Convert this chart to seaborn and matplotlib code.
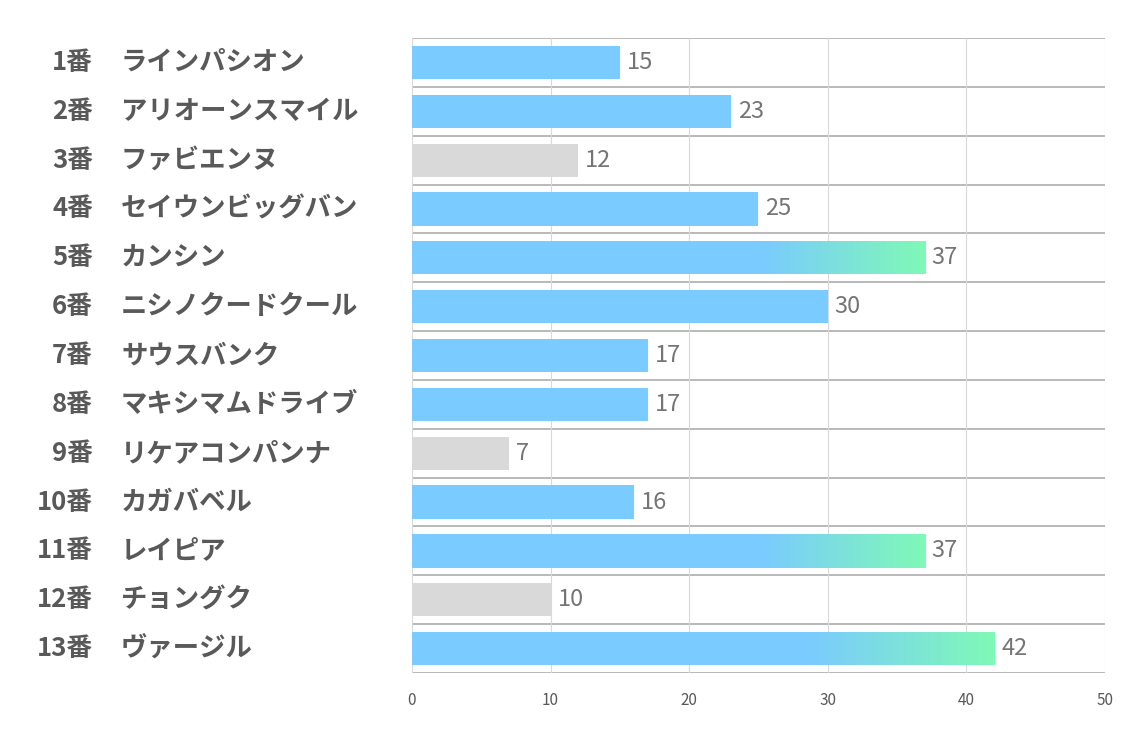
import numpy as np
import pandas as pd
import matplotlib.pyplot as plt
import matplotlib.transforms as mtransforms
from matplotlib.colors import LinearSegmentedColormap
import seaborn as sns

# data
numbers = ["1番", "2番", "3番", "4番", "5番", "6番", "7番", "8番", "9番", "10番", "11番", "12番", "13番"]
horses = ["ラインパシオン", "アリオーンスマイル", "ファビエンヌ", "セイウンビッグバン", "カンシン",
          "ニシノクードクール", "サウスバンク", "マキシマムドライブ", "リケアコンパンナ", "カガバベル",
          "レイピア", "チョングク", "ヴァージル"]
scores = [15, 23, 12, 25, 37, 30, 17, 17, 7, 16, 37, 10, 42]
kinds = ["blue", "blue", "grey", "blue", "grad", "blue", "blue", "blue", "grey", "blue", "grad", "grey", "grad"]

blue = "#7ACBFF"
green = "#7FF9B6"
grey = "#D9D9D9"

df = pd.DataFrame({"label": [n + h for n, h in zip(numbers, horses)], "score": scores, "kind": kinds})

sns.set_style("white")
plt.rcParams['font.family'] = ['Noto Sans CJK JP', 'DejaVu Sans']

fig = plt.figure(figsize=(11.34, 7.37), dpi=100)
ax = fig.add_axes([0.3633, 0.0868, 0.6111, 0.8616])

pal = {"blue": blue, "grad": blue, "grey": grey}
sns.barplot(data=df, x="score", y="label", hue="kind", palette=pal, dodge=False, saturation=1,
            width=0.68, legend=False, ax=ax, order=df["label"], linewidth=0, edgecolor="none")

# gradient at the end of some bars
cmap = LinearSegmentedColormap.from_list("bg", [blue, green], N=256)
grad = np.linspace(0, 1, 256).reshape(1, -1)
for p in ax.patches:
    w = p.get_width()
    if w <= 0:
        continue
    row = int(round(p.get_y() + p.get_height() / 2))
    if kinds[row] != "grad":
        continue
    x0 = w * 0.68
    im = ax.imshow(grad, cmap=cmap, aspect="auto", extent=[x0, w, p.get_y() + p.get_height(), p.get_y()],
                   interpolation="bilinear", zorder=p.get_zorder() + 0.1)
    im.set_clip_path(p)

ax.set_xlim(0, 50)
ax.set_ylim(12.5, -0.5)
ax.set_xticks([0, 10, 20, 30, 40, 50])
ax.set_xlabel("")
ax.set_ylabel("")
ax.set_yticks([])
ax.tick_params(axis="x", labelsize=11, colors="#595959", length=0, pad=14)
ax.xaxis.grid(True, color="#D9D9D9", linewidth=0.8)
ax.set_axisbelow(True)
for s in ax.spines.values():
    s.set_visible(False)

for i in range(14):
    ax.axhline(i - 0.5, color="#A6A6A6", linewidth=1.1, zorder=0.5)

# value labels
for i, v in enumerate(scores):
    ax.text(v + 0.5, i, str(v), va="center", ha="left", fontsize=17, color="#757575")

# row labels
trans = mtransforms.blended_transform_factory(fig.transFigure, ax.transData)
for i, (n, h) in enumerate(zip(numbers, horses)):
    ax.text(93 / 1134, i, n, transform=trans, ha="right", va="center",
            fontsize=18.5, fontweight="bold", color="#595959")
    ax.text(121 / 1134, i, h, transform=trans, ha="left", va="center",
            fontsize=19, fontweight="bold", color="#595959")

fig.savefig("out.png", dpi=100)
